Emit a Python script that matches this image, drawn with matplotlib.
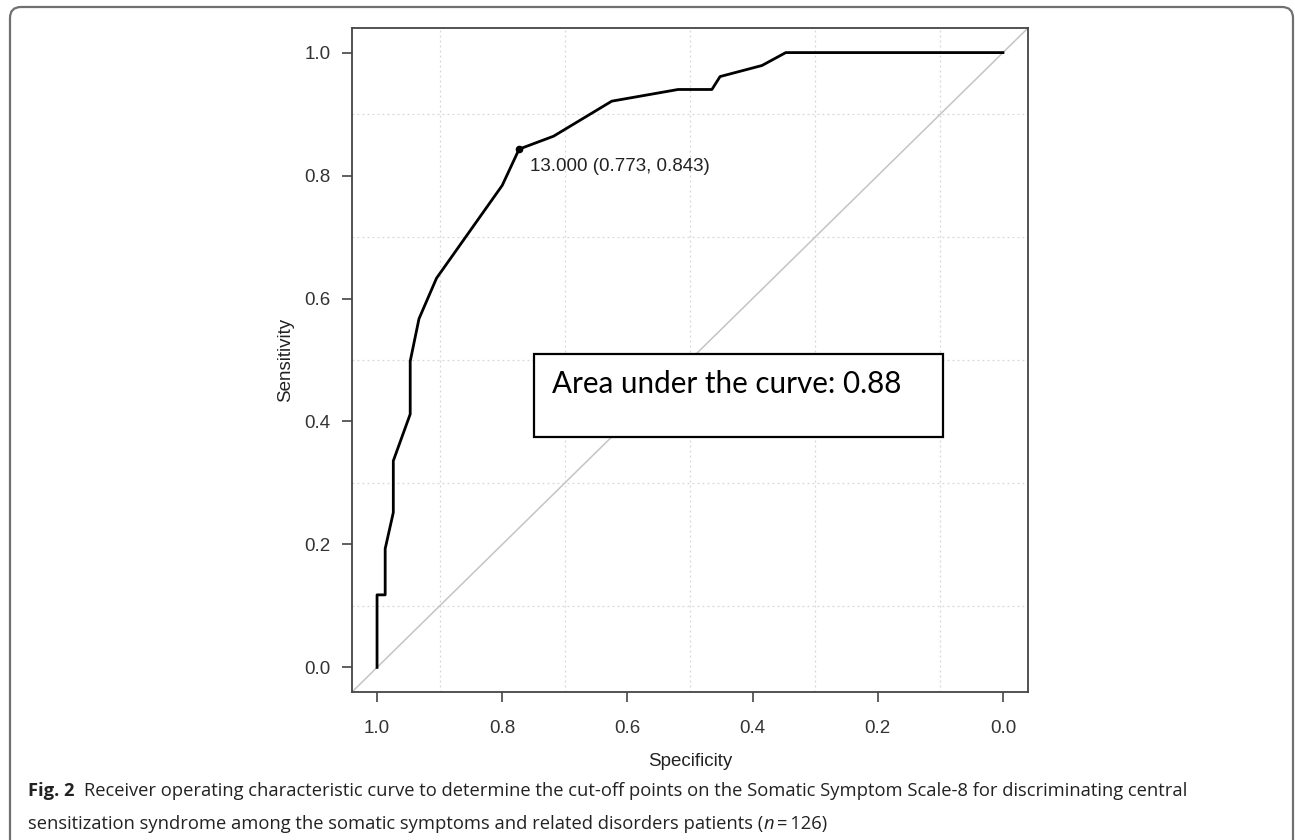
import matplotlib
matplotlib.use("Agg")
import matplotlib.pyplot as plt
from matplotlib.patches import FancyBboxPatch, Rectangle
import numpy as np

# ---------------- data ----------------
specificity = [1.0, 1.0, 0.987, 0.987, 0.974, 0.974, 0.947, 0.947, 0.933, 0.905,
               0.800, 0.773, 0.718, 0.625, 0.519, 0.465, 0.452, 0.385, 0.347, 0.0]
sensitivity = [0.0, 0.118, 0.118, 0.193, 0.252, 0.336, 0.412, 0.498, 0.567, 0.633,
               0.784, 0.843, 0.864, 0.921, 0.940, 0.940, 0.961, 0.979, 1.0, 1.0]
cutoff_threshold = 13.000
cutoff_spec = 0.773
cutoff_sens = 0.843
auc_value = 0.88
tick_values = [1.0, 0.8, 0.6, 0.4, 0.2, 0.0]
tick_labels = ["1.0", "0.8", "0.6", "0.4", "0.2", "0.0"]
grid_values = [round(v * 0.1, 1) for v in range(11)]

W, H = 1295, 840
fig = plt.figure(figsize=(W / 100, H / 100), dpi=100)

# background axes in pixel coordinates (frame + caption)
bg = fig.add_axes([0, 0, 1, 1], zorder=0)
bg.set_xlim(0, W)
bg.set_ylim(H, 0)
bg.axis("off")
frame = FancyBboxPatch((10, 7), 1283, 860, boxstyle="round,pad=0,rounding_size=11",
                       fill=False, edgecolor="#707070", linewidth=1.6)
bg.add_patch(frame)

# main plot axes
L, R, T, B = 352, 1028, 28, 692
ax = fig.add_axes([L / W, 1 - B / H, (R - L) / W, (B - T) / H], zorder=1)
ax.set_xlim(1.04, -0.04)
ax.set_ylim(-0.04, 1.04)

ax.set_xticks(grid_values, minor=True)
ax.set_yticks(grid_values, minor=True)
ax.grid(which="minor", color="#d6d6d6", linestyle=(0, (1.5, 2.5)), linewidth=0.9)
ax.tick_params(which="minor", length=0)
ax.set_xticks(tick_values)
ax.set_xticklabels(tick_labels)
ax.set_yticks(tick_values)
ax.set_yticklabels(tick_labels)

for s in ax.spines.values():
    s.set_color("#444444")
    s.set_linewidth(1.3)
ax.tick_params(which="major", length=7, width=1.2, color="#444444",
               labelcolor="#333333", labelsize=13.5)
ax.tick_params(axis="x", pad=13.5)
ax.tick_params(axis="y", pad=8.5)
for lab in ax.get_xticklabels() + ax.get_yticklabels():
    lab.set_family("Liberation Sans")

ax.set_xlabel("Specificity", fontsize=13.5, family="Liberation Sans", color="#222222")
ax.set_ylabel("Sensitivity", fontsize=13.5, family="Liberation Sans", color="#222222")
ax.xaxis.set_label_coords(0.5, (B - 753) / (B - T))
ax.yaxis.set_label_coords((294 - L) / (R - L), 0.5)

# diagonal reference line
ax.plot([1.04, -0.04], [-0.04, 1.04], color="#c4c4c4", linewidth=1.1, zorder=2)

# ROC curve
ax.plot(specificity, sensitivity, color="black", linewidth=2.0, zorder=3,
        solid_joinstyle="round")
ax.plot([cutoff_spec], [cutoff_sens], marker="o", color="black", markersize=4.5, zorder=4)
ax.annotate(f"{cutoff_threshold:.3f} ({cutoff_spec:.3f}, {cutoff_sens:.3f})",
            xy=(cutoff_spec, cutoff_sens), xytext=(7.5, -15.5),
            textcoords="offset points", ha="left", va="baseline",
            fontsize=13.5, family="Liberation Sans", color="#222222", zorder=4)

# AUC box
box = Rectangle((0.749, 0.374), 0.096 - 0.749, 0.510 - 0.374, fill=True,
                facecolor="white", edgecolor="black", linewidth=1.6, zorder=5)
ax.add_patch(box)
auc_txt = ax.text(0.721, 0.447, f"Area under the curve: {auc_value:.2f}",
                  ha="left", va="baseline", fontsize=20, family="Lato",
                  color="black", zorder=6)

renderer = fig.canvas.get_renderer()
# fit AUC text width to ~350 px
wpx = auc_txt.get_window_extent(renderer).width
auc_txt.set_fontsize(20 * 350 / wpx)

# ---------------- caption ----------------
cap_font = "Open Sans"
line1_rest = ("Receiver operating characteristic curve to determine the cut-off points on the "
              "Somatic Symptom Scale-8 for discriminating central")
line2_a = "sensitization syndrome among the somatic symptoms and related disorders patients ("
line2_b = "n"
line2_c = "\u2009=\u2009126)"

def place(x, y, s, size, **kw):
    t = bg.text(x, y, s, fontsize=size, family=[cap_font, "DejaVu Sans"],
                ha="left", va="baseline", color="#222222", **kw)
    ext = t.get_window_extent(renderer)
    return t, x + ext.width

def draw_caption(size):
    items = []
    t0, x = place(28, 796, "Fig. 2", size, fontweight="bold")
    items.append(t0)
    t1, x = place(x + size * 0.75, 796, line1_rest, size)
    items.append(t1)
    t2, x2 = place(28, 829, line2_a, size)
    t3, x2 = place(x2, 829, line2_b, size, style="italic")
    t4, x2 = place(x2, 829, line2_c, size)
    items += [t2, t3, t4]
    return items, x

size0 = 12.0
items, xend = draw_caption(size0)
scale = (1185 - 28) / (xend - 28)
for it in items:
    it.remove()
draw_caption(size0 * scale)

fig.savefig("out.png", dpi=100)
